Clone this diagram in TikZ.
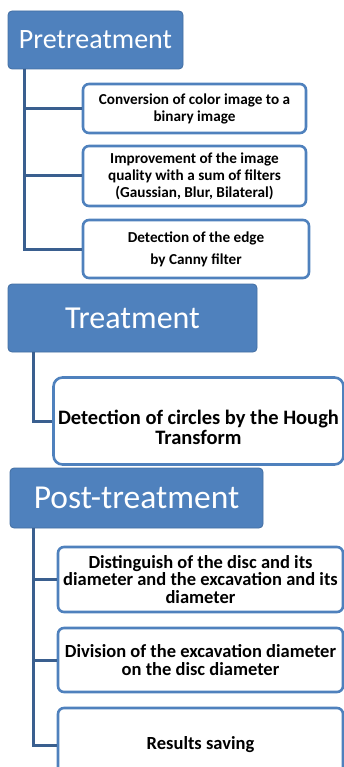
\documentclass[tikz,border=0pt]{standalone}
\usepackage{fontspec}
\setmainfont{Carlito}
\definecolor{hblue}{HTML}{4F81BD}
\definecolor{cblue}{HTML}{3A5F8F}
\tikzset{
  head/.style={fill=hblue, draw=hblue!85!black, line width=0.8pt, rounded corners=4pt, text=white, inner sep=0pt},
  child/.style={fill=white, draw=hblue, line width=2.6pt, rounded corners=6pt, align=center, inner sep=0pt, font=\bfseries},
  conn/.style={draw=cblue, line width=3pt},
  fsA/.style={font=\bfseries\fontsize{15.2}{17}\selectfont},
  fsB/.style={font=\bfseries\fontsize{20.5}{19.5}\selectfont},
  fsC/.style={font=\bfseries\fontsize{18.5}{17.5}\selectfont}
}
\begin{document}
\begin{tikzpicture}[x=1pt,y=-1pt]
\useasboundingbox (0,0) rectangle (344,767);
\clip (0,0) rectangle (344,767);
% Pretreatment
\node[head, minimum width=175pt, minimum height=58pt, font=\fontsize{28}{30}\selectfont] (pre) at (95.5,40) {Pretreatment};
\node[child, fsA, minimum width=223pt, minimum height=49pt] (p1) at (194.5,108.5) {Conversion of color image to a\\binary image};
\node[child, fsA, minimum width=223pt, minimum height=60pt] (p2) at (194.5,176) {Improvement of the image\\quality with a sum of filters\\(Gaussian, Blur, Bilateral)};
\node[child, fsA, minimum width=226pt, minimum height=58pt] (p3) at (196,249) {Detection of the edge\\[5pt]by Canny filter};
\coordinate (pv) at (24,69);
\draw[conn] (pv) |- (p1.west);
\draw[conn] (pv) |- (p2.west);
\draw[conn] (pv) |- (p3.west);
% Treatment
\node[head, minimum width=249pt, minimum height=68pt, font=\fontsize{32}{34}\selectfont] (tr) at (132.5,318) {Treatment};
\node[child, fsB, minimum width=290pt, minimum height=87pt, rounded corners=9pt] (t1) at (198.5,421) {\rule{0pt}{27pt}Detection of circles by the Hough\\Transform};
\coordinate (tv) at (33,352);
\draw[conn] (tv) |- (t1.west);
% Post-treatment
\node[head, minimum width=253pt, minimum height=60pt, font=\fontsize{33.5}{35}\selectfont] (po) at (136.5,498) {Post-treatment};
\node[child, fsC, minimum width=285pt, minimum height=65pt] (q1) at (200.5,579.5) {Distinguish of the disc and its\\diameter and the excavation and its\\diameter};
\node[child, fsC, minimum width=285pt, minimum height=64pt] (q2) at (200.5,660) {Division of the excavation diameter\\on the disc diameter};
\node[child, fsC, minimum width=285pt, minimum height=74pt] (q3) at (200.5,745) {Results saving};
\coordinate (qv) at (33,528);
\draw[conn] (qv) |- (q1.west);
\draw[conn] (qv) |- (q2.west);
\draw[conn] (qv) |- (q3.west);
\end{tikzpicture}
\end{document}
